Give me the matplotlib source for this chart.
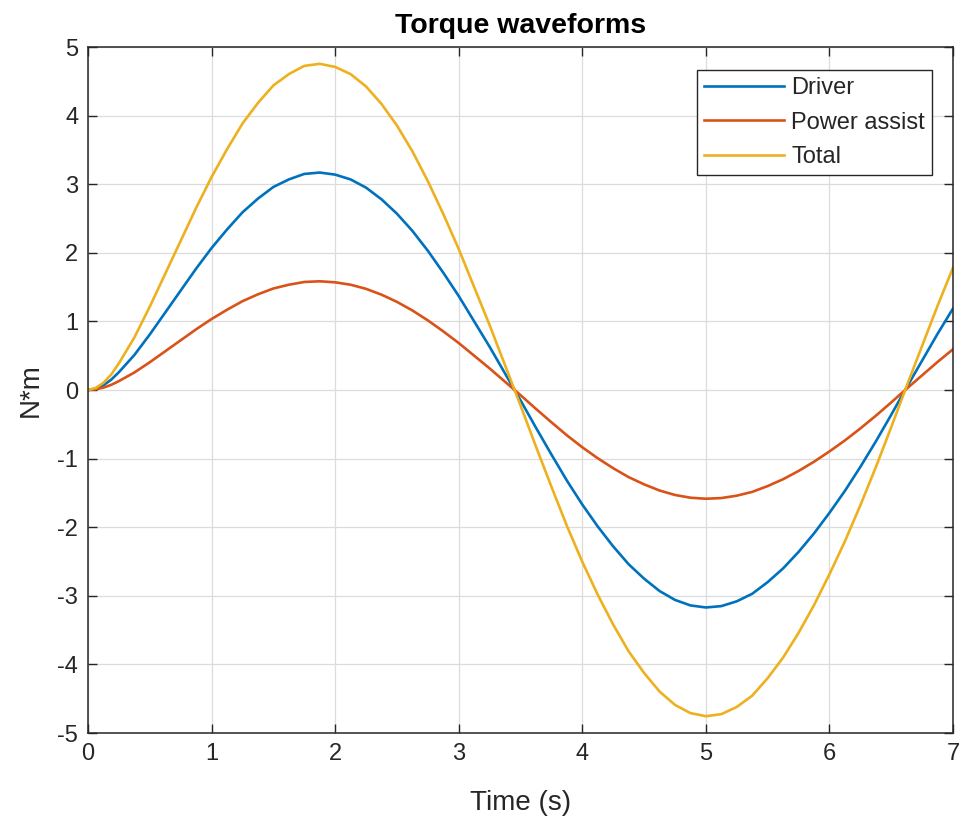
import matplotlib
matplotlib.use("Agg")
import matplotlib.pyplot as plt

plt.rcParams['font.family'] = ['Liberation Sans', 'DejaVu Sans']
plt.rcParams['axes.unicode_minus'] = False

# values
time_s = [0, 0.0625, 0.125, 0.1875, 0.25, 0.375, 0.5, 0.625, 0.75, 0.875,
          1.0, 1.125, 1.25, 1.375, 1.5, 1.625, 1.75, 1.875, 2.0, 2.125,
          2.25, 2.375, 2.5, 2.625, 2.75, 2.875, 3.0, 3.125, 3.25, 3.375,
          3.5, 3.625, 3.75, 3.875, 4.0, 4.125, 4.25, 4.375, 4.5, 4.625,
          4.75, 4.875, 5.0, 5.125, 5.25, 5.375, 5.5, 5.625, 5.75, 5.875,
          6.0, 6.125, 6.25, 6.375, 6.5, 6.625, 6.75, 6.875, 7.0]
driver = [0, 0.02, 0.07, 0.15, 0.26, 0.51, 0.81, 1.13, 1.45, 1.77,
          2.07, 2.34, 2.59, 2.79, 2.96, 3.07, 3.15, 3.17, 3.14, 3.07,
          2.95, 2.78, 2.57, 2.32, 2.03, 1.71, 1.37, 1.00, 0.63, 0.24,
          -0.15, -0.55, -0.94, -1.32, -1.67, -1.99, -2.28, -2.54, -2.75, -2.93,
          -3.06, -3.14, -3.17, -3.15, -3.08, -2.97, -2.80, -2.60, -2.36, -2.09,
          -1.79, -1.47, -1.12, -0.75, -0.36, 0.04, 0.43, 0.82, 1.19]
assist = [0, 0.01, 0.035, 0.075, 0.13, 0.255, 0.405, 0.565, 0.725, 0.885,
          1.035, 1.17, 1.295, 1.395, 1.48, 1.535, 1.575, 1.585, 1.57, 1.535,
          1.475, 1.39, 1.285, 1.16, 1.015, 0.855, 0.685, 0.50, 0.315, 0.12,
          -0.075, -0.275, -0.47, -0.66, -0.835, -0.995, -1.14, -1.27, -1.375, -1.465,
          -1.53, -1.57, -1.585, -1.575, -1.54, -1.485, -1.40, -1.30, -1.18, -1.045,
          -0.895, -0.735, -0.56, -0.375, -0.18, 0.02, 0.215, 0.41, 0.595]
total = [0, 0.03, 0.105, 0.225, 0.39, 0.765, 1.215, 1.695, 2.175, 2.655,
         3.105, 3.51, 3.885, 4.185, 4.44, 4.605, 4.725, 4.755, 4.71, 4.605,
         4.425, 4.17, 3.855, 3.48, 3.045, 2.565, 2.055, 1.50, 0.945, 0.36,
         -0.225, -0.825, -1.41, -1.98, -2.505, -2.985, -3.42, -3.81, -4.125, -4.395,
         -4.59, -4.71, -4.755, -4.725, -4.62, -4.455, -4.20, -3.90, -3.54, -3.135,
         -2.685, -2.205, -1.68, -1.125, -0.54, 0.06, 0.645, 1.23, 1.785]

x_ticks = [0, 1, 2, 3, 4, 5, 6, 7]
y_ticks = [-5, -4, -3, -2, -1, 0, 1, 2, 3, 4, 5]

blue = (0, 0.447, 0.741)
orange = (0.85, 0.325, 0.098)
yellow = (0.929, 0.694, 0.125)
dark = '#262626'

fig = plt.figure(figsize=(9.66, 8.25), dpi=100)
ax = fig.add_axes([0.0911, 0.1115, 0.8955, 0.8315])

ax.plot(time_s, driver, color=blue, lw=1.9, label='Driver')
ax.plot(time_s, assist, color=orange, lw=1.9, label='Power assist')
ax.plot(time_s, total, color=yellow, lw=1.9, label='Total')

ax.set_xlim(0, 7)
ax.set_ylim(-5, 5)
ax.set_xticks(x_ticks)
ax.set_yticks(y_ticks)
ax.grid(True, color='#dcdcdc', lw=0.9)
ax.set_axisbelow(True)

for sp in ax.spines.values():
    sp.set_color(dark)
    sp.set_linewidth(1.1)
ax.tick_params(direction='in', length=6.5, width=1.0, color=dark, labelcolor=dark,
               labelsize=17, top=True, right=True, pad=7)

ax.set_xlabel('Time (s)', fontsize=20, color=dark, labelpad=18)
ax.set_ylabel('N*m', fontsize=20, color=dark, labelpad=9.5)
ax.set_title('Torque waveforms', fontsize=20.5, fontweight='bold', pad=10)

leg = ax.legend(loc='upper right', bbox_to_anchor=(0.9757, 0.966), borderaxespad=0,
                fontsize=17, handlelength=3.4, handletextpad=0.3, labelspacing=0.52,
                borderpad=0.3, fancybox=False, framealpha=1)
leg.get_frame().set_edgecolor(dark)
leg.get_frame().set_linewidth(1.0)
for t in leg.get_texts():
    t.set_color(dark)

fig.savefig('out.png', dpi=100)
